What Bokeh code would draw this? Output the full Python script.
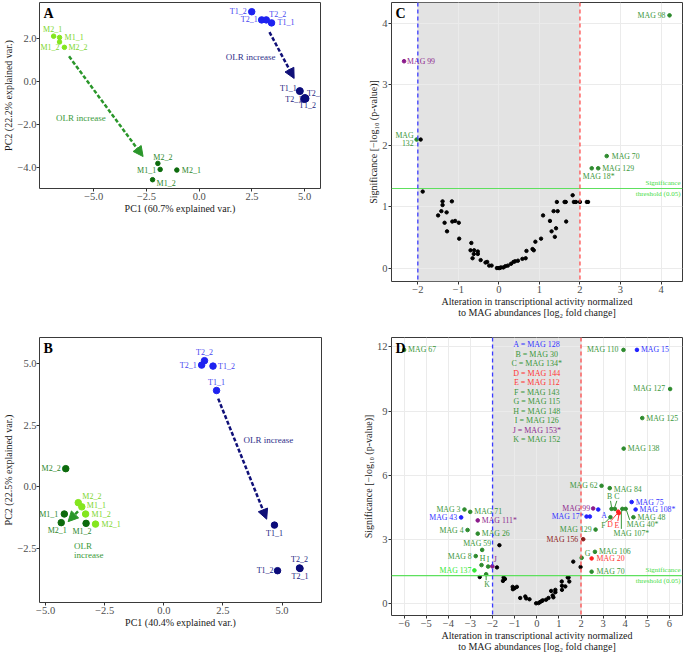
from bokeh.plotting import figure
from bokeh.layouts import column, row
from bokeh.models import (ColumnDataSource, LabelSet, Label, Arrow, NormalHead,
                          Span, BoxAnnotation, FixedTicker, CustomJSTickFormatter, Spacer)
from bokeh.core.properties import value, field
from bokeh.embed import file_html
from bokeh.resources import INLINE

FONT = "Liberation Serif"

# ---------------- Panel A data (PCA) ----------------
a_sample = ["M2_1", "M1_1", "M1_2", "M2_2", "M2_2", "M1_1", "M2_1", "M1_2",
            "T1_2", "T2_1", "T2_2", "T1_1", "T1_1", "T2_2", "T2_1", "T1_2"]
a_pc1 = [-6.90, -6.62, -6.62, -6.39, -1.96, -1.85, -1.06, -2.21,
         2.49, 2.96, 3.18, 3.43, 4.77, 5.01, 4.98, 5.04]
a_pc2 = [2.11, 2.05, 1.84, 1.59, -3.82, -4.10, -4.13, -4.58,
         3.25, 2.87, 2.87, 2.73, -0.45, -0.77, -0.82, -0.80]
a_group = ["M_low"] * 4 + ["M_high"] * 4 + ["T_low"] * 4 + ["T_high"] * 4
a_arrow_group = ["M", "T"]
a_arrow_x0 = [-6.17, 3.33]
a_arrow_y0 = [1.17, 2.30]
a_arrow_x1 = [-2.66, 4.50]
a_arrow_y1 = [-3.50, 0.14]
a_note_group = ["M", "T"]
a_note_text = ["OLR increase", "OLR increase"]
a_note_x = [-6.79, 1.26]
a_note_y = [-1.69, 1.14]

# ---------------- Panel B data (PCA) ----------------
b_sample = ["M2_2", "M1_1", "M1_2", "M2_1", "M2_2", "M1_1", "M2_1", "M1_2",
            "T2_2", "T2_1", "T1_2", "T1_1", "T1_1", "T2_2", "T1_2", "T2_1"]
b_pc1 = [-3.62, -3.47, -3.31, -2.89, -4.15, -4.21, -4.34, -3.29,
         1.72, 1.60, 2.08, 2.23, 4.68, 5.74, 4.81, 5.76]
b_pc2 = [-0.64, -0.81, -1.10, -1.51, 0.74, -1.10, -1.45, -1.48,
         5.12, 4.94, 4.90, 3.91, -1.55, -3.29, -3.40, -3.31]
b_group = ["M_low"] * 4 + ["M_high"] * 4 + ["T_low"] * 4 + ["T_high"] * 4
b_arrow_group = ["M", "T"]
b_arrow_x0 = [-3.63, 2.30]
b_arrow_y0 = [-0.99, 3.58]
b_arrow_x1 = [-4.05, 4.35]
b_arrow_y1 = [-1.41, -1.31]
b_note_group = ["M", "M", "T"]
b_note_text = ["OLR", "increase", "OLR increase"]
b_note_x = [-3.80, -3.80, 3.37]
b_note_y = [-2.38, -2.76, 1.90]

# ---------------- Panel C data (volcano) ----------------
c_black_lfc = [-1.93, -1.88, -1.50, -1.42, -1.39, -1.39, -1.34, -1.29, -1.28, -1.16,
               -1.15, -1.08, -0.99, -0.98, -0.70, -0.68, -0.65, -0.62, -0.61, -0.52,
               -0.52, -0.45, -0.33, -0.29, -0.24, -0.18, -0.05, -0.02, 0.02, 0.05,
               0.11, 0.16, 0.22, 0.30, 0.36, 0.40, 0.47, 0.58, 0.66, 0.68,
               0.83, 0.86, 0.90, 1.04, 1.09, 1.26, 1.30, 1.35, 1.38, 1.41,
               1.43, 1.45, 1.62, 1.65, 1.66, 1.82, 1.85, 1.90, 2.00, 2.17, 2.20]
c_black_sig = [2.10, 1.25, 0.86, 0.93, 1.09, 1.03, 0.74, 0.91, 0.60, 1.09,
               0.76, 0.77, 0.74, 0.48, 0.29, 0.41, 0.16, 0.23, 0.29, 0.27,
               0.23, 0.13, 0.09, 0.10, 0.04, 0.04, 0.00, 0.00, 0.00, 0.01,
               0.01, 0.03, 0.04, 0.07, 0.10, 0.11, 0.12, 0.15, 0.16, 0.28,
               0.31, 0.29, 0.43, 0.48, 0.86, 0.77, 0.60, 0.93, 0.51, 0.65,
               1.08, 0.93, 1.08, 1.08, 0.76, 1.19, 1.08, 1.08, 1.08, 1.08, 1.08]
c_name = ["MAG 98", "MAG 99", "MAG\n132", "MAG 70", "MAG 129", "MAG 18*"]
c_lfc = [4.21, -2.34, -2.03, 2.66, 2.45, 2.29]
c_sig = [4.13, 3.38, 2.10, 1.83, 1.63, 1.63]
c_kind = ["g", "p", "g", "g", "g", "g"]

# ---------------- Panel D data (volcano) ----------------
d_black_lfc = [-2.58, -1.80, -1.69, -1.53, -1.50, -1.44, -1.09, -1.08, -1.00, -0.90,
               -0.75, -0.52, -0.48, -0.33, -0.03, 0.08, 0.15, 0.23, 0.27, 0.42,
               0.53, 0.65, 0.72, 0.75, 0.84, 0.84, 1.13, 1.14, 1.14, 1.29,
               1.40, 1.44, 1.47, 1.65, 1.98]
d_black_sig = [1.23, 1.68, 2.72, 1.05, 1.21, 1.14, 0.77, 0.66, 0.71, 0.77,
               0.25, 0.32, 0.23, 0.19, 0.00, 0.01, 0.06, 0.11, 0.14, 0.17,
               0.25, 0.58, 0.37, 0.28, 0.63, 0.52, 1.02, 0.82, 0.63, 0.79,
               1.21, 1.21, 1.02, 1.95, 1.70]
d_name = ["MAG 67", "MAG 110", "MAG 15", "MAG 127", "MAG 125", "MAG 138", "MAG 62", "MAG 84",
          "MAG 75", "MAG 108*", "MAG 48", "MAG 40*", "MAG 107*", "B", "C", "D", "E", "F",
          "A", "MAG 99", "MAG 17*", "", "MAG 129", "MAG 156", "MAG 106", "G", "MAG 20", "MAG 70",
          "MAG 3", "MAG 71", "MAG 43", "MAG 111*", "MAG 4", "MAG 26", "MAG 59", "MAG 8",
          "H", "I", "J", "MAG 137", "K"]
d_lfc = [-6.00, 3.92, 4.53, 6.03, 4.77, 3.93, 2.93, 3.30,
         4.29, 4.47, 4.37, 4.02, 3.87, 3.38, 3.53, 3.68, 3.71, 3.33,
         2.78, 2.55, 2.25, 2.40, 2.66, 2.10, 2.63, 2.03, 2.48, 2.48,
         -3.27, -3.01, -3.42, -2.67, -3.13, -2.67, -2.47, -2.76,
         -2.50, -2.20, -2.01, -2.82, -2.29]
d_sig = [11.86, 11.86, 11.86, 10.03, 8.67, 7.24, 5.50, 5.39,
         4.74, 4.39, 4.03, 4.42, 4.42, 4.42, 4.42, 4.29, 4.22, 4.03,
         4.39, 4.44, 4.06, 4.06, 3.45, 3.00, 2.41, 2.13, 2.10, 1.48,
         4.39, 4.28, 4.02, 3.88, 3.43, 3.26, 2.50, 2.21,
         1.79, 1.72, 1.73, 1.54, 1.36]
d_kind = ["g", "g", "b", "g", "g", "g", "g", "g",
          "b", "b", "g", "g", "g", "g", "g", "r", "r", "g",
          "b", "p", "b", "b", "g", "dr", "g", "g", "r", "g",
          "g", "g", "b", "p", "g", "g", "g", "g",
          "g", "g", "p", "l", "g"]
d_key_text = ["A = MAG 128", "B = MAG 30", "C = MAG 134*", "D = MAG 144", "E = MAG 112",
              "F = MAG 143", "G = MAG 115", "H = MAG 148", "I = MAG 126", "J = MAG 153*",
              "K = MAG 152"]
d_key_kind = ["b", "g", "g", "r", "r", "g", "g", "g", "g", "p", "g"]

threshold = 1.30
volcano_xtitle = ("Alteration in transcriptional activity normalized\n"
                  "to MAG abundances [log\u2082 fold change]")
volcano_ytitle = "Significance [\u2212log\u2081\u2080 (p-value)]"

# ---------------- styles ----------------
PT_COLOR = {"M_low": "#84E61E", "M_high": "#0D6B0D", "T_low": "#1E22F0", "T_high": "#0B0B7A"}
LB_COLOR = {"M_low": "#7CD62C", "M_high": "#2A862A", "T_low": "#4646F0", "T_high": "#22227E"}
ARROW_COLOR = {"M": "#2A962A", "T": "#101078"}
NOTE_COLOR = {"M": "#3A9A3A", "T": "#30308A"}
KIND_COLOR = {"g": "#2E8B2E", "b": "#2222FF", "p": "#8B1A8B", "r": "#FF2222",
              "dr": "#8B1C1C", "l": "#33E833", "k": "#000000"}
KIND_TEXT = {"g": "#3A963A", "b": "#3333FF", "p": "#8E2A8E", "r": "#FF3333",
             "dr": "#8B2020", "l": "#33E833", "k": "#000000"}

a_lab_align = ["center", "left", "right", "left", "center", "right", "left", "left",
               "right", "right", "left", "left", "right", "left", "right", "center"]
a_lab_dx = [-1, 5, 0, 4, 5, -4, 5, 4, -5, -4, 3, 6, -3, 2, -2, 2]
a_lab_dy = [7, 0, -6, 0, 6, -1, 0, -4, 0, 0, 5, 0, 3, 4, 0, -7]
a_pt_size = {"M_low": 4.5, "M_high": 4.5, "T_low": 6.5, "T_high": 7}

b_lab_align = ["left", "left", "left", "left", "right", "right", "center", "center",
               "center", "right", "left", "center", "center", "center", "right", "center"]
b_lab_dx = [4, 5, 6, 6, -5, -6, -4, -4, 0, -5, 5, 0, 0, 0, -4, 0]
b_lab_dy = [6, 1, 0, 0, 0, 0, -8, -8, 8, 0, 0, 8, -8, 8, 0, -8]
b_pt_size = {"M_low": 6.5, "M_high": 6.5, "T_low": 6.5, "T_high": 6.5}

c_lab_align = ["right", "left", "right", "left", "left", "left"]
c_lab_dx = [-4, 3, -3, 5, 4, -9]
c_lab_dy = [0, 0, 0, 0, 0, -8]

d_lab_align = ["left", "right", "left", "right", "left", "left", "right", "left",
               "left", "left", "left", "left", "center", "center", "center", "center", "center", "center",
               "left", "right", "right", "left", "right", "right", "left", "left", "left", "left",
               "right", "left", "right", "left", "right", "left", "center", "right",
               "center", "center", "center", "right", "center"]
d_lab_dx = [4, -5, 4, -5, 4, 4, -4, 4,
            4, 4, 4, 1, 9, -2, 2, -8, -2, -7,
            3, -3, -3, 0, -4, -5, 4, 3, 5, 5,
            -4, 4, -4, 4, -4, 4, -5, -4,
            1, 0, 3, -3, 1]
d_lab_dy = [0, 0, 0, 0, 0, 0, 0, -1,
            0, 0, 0, -16, -25, 12, 12, -13, -12, -8,
            -6, 0, 0, 0, 0, 0, 0, 4, 0, 0,
            0, 0, 0, 0, 0, 0, 6, 0,
            7, 7, 7, 0, -10]
# leader lines (label name, start px offset, end px offset)
d_leader = [("B", 0, 2, -1, 8), ("C", 0, 2, 2, 8), ("F", -1, -1, -5, -5),
            ("D", -1, -2, -7, -9), ("E", 0, -2, -1, -8), ("MAG 107*", -1, -2, -1, -20),
            ("MAG 40*", 1, -2, 4, -11), ("K", 0, -2, 0, -6)]

BORDER_B = 36


def base_fig(w, h, xr, yr, left, right, top, bottom, grid):
    p = figure(width=w, height=h, x_range=xr, y_range=yr, output_backend="svg",
               toolbar_location=None, min_border_left=left, min_border_right=right,
               min_border_top=top, min_border_bottom=bottom)
    p.outline_line_color = "#3a3a3a"
    p.outline_line_width = 1
    p.background_fill_color = "white"
    p.border_fill_color = "white"
    for ax in (p.xaxis, p.yaxis):
        ax.axis_line_color = None
        ax.major_tick_line_color = "#333333"
        ax.major_tick_out = 3
        ax.major_tick_in = 0
        ax.minor_tick_line_color = None
        ax.major_label_text_font = FONT
        ax.major_label_text_font_size = "10.5px"
        ax.major_label_text_color = "#4D4D4D"
        ax.major_label_standoff = 1
        ax.axis_label_text_font = FONT
        ax.axis_label_text_font_size = "10px"
        ax.axis_label_text_font_style = "normal"
        ax.axis_label_text_color = "#1a1a1a"
        ax.axis_label_text_line_height = 1.0
        ax.axis_label_standoff = 0
    if grid:
        p.xgrid.grid_line_color = "#EBEBEB"
        p.ygrid.grid_line_color = "#EBEBEB"
    else:
        p.xgrid.visible = False
        p.ygrid.visible = False
    return p


def fmt(decimals):
    return CustomJSTickFormatter(code="return tick.toFixed(%d).replace('-', '\u2212');" % decimals)


def panel_letter(p, letter, xr, yr):
    p.add_layout(Label(x=xr[0], y=yr[1], x_offset=4, y_offset=-3, text=letter,
                       text_font=FONT, text_font_style="bold", text_font_size="14px",
                       text_baseline="top", text_color="black"))


def pca_panel(w, h, xr, yr, borders, sample, pc1, pc2, group, align, dx, dy, sizes,
              ax0, ay0, ax1, ay1, agroup, ntext, nx, ny, ngroup, xticks, yticks,
              xlabel, ylabel, letter, head):
    p = base_fig(w, h, xr, yr, *borders, grid=False)
    p.yaxis.major_label_standoff = 0
    src = ColumnDataSource(dict(x=pc1, y=pc2, name=sample,
                                color=[PT_COLOR[g] for g in group],
                                lcolor=[LB_COLOR[g] for g in group],
                                size=[sizes[g] for g in group],
                                align=align, dx=dx, dy=dy))
    for i in range(len(ax0)):
        c = ARROW_COLOR[agroup[i]]
        p.add_layout(Arrow(end=NormalHead(size=head[i], fill_color=c, line_color=c),
                           x_start=ax0[i], y_start=ay0[i], x_end=ax1[i], y_end=ay1[i],
                           line_color=c, line_width=2.5, line_dash="4 2"))
    p.scatter("x", "y", source=src, size="size", color="color", line_color="color")
    p.add_layout(LabelSet(x="x", y="y", text="name", source=src, x_offset="dx", y_offset="dy",
                          text_align=field("align"), text_baseline="middle",
                          text_font=value(FONT), text_font_size="8px", text_color="lcolor"))
    for t, x, y, g in zip(ntext, nx, ny, ngroup):
        p.add_layout(Label(x=x, y=y, text=t, text_font=FONT, text_font_size="9px",
                           text_color=NOTE_COLOR[g], text_baseline="middle"))
    p.xaxis.ticker = FixedTicker(ticks=xticks)
    p.yaxis.ticker = FixedTicker(ticks=yticks)
    p.xaxis.formatter = fmt(1)
    p.yaxis.formatter = fmt(1)
    p.xaxis.axis_label = xlabel
    p.yaxis.axis_label = ylabel
    panel_letter(p, letter, xr, yr)
    return p


def volcano_base(w, h, xr, yr, borders, xticks, yticks, letter):
    p = base_fig(w, h, xr, yr, *borders, grid=True)
    p.add_layout(BoxAnnotation(left=-2, right=2, fill_color="#E3E3E3", fill_alpha=1,
                               line_color=None, level="image"))
    p.add_layout(Span(location=-2, dimension="height", line_color="#3B3BFF",
                      line_dash="4 3", line_width=1.3, level="overlay"))
    p.add_layout(Span(location=2, dimension="height", line_color="#FF4D4D",
                      line_dash="4 3", line_width=1.3, level="overlay"))
    p.add_layout(Span(location=threshold, dimension="width", line_color="#5EE05E",
                      line_width=1.2))
    p.add_layout(Label(x=xr[1], y=threshold, x_offset=-2, y_offset=2, text="Significance",
                       text_font=FONT, text_font_size="7px", text_color="#44DD44",
                       text_align="right", text_baseline="bottom"))
    p.add_layout(Label(x=xr[1], y=threshold, x_offset=-2, y_offset=-1, text="threshold (0.05)",
                       text_font=FONT, text_font_size="7px", text_color="#44DD44",
                       text_align="right", text_baseline="top"))
    p.xaxis.ticker = FixedTicker(ticks=xticks)
    p.yaxis.ticker = FixedTicker(ticks=yticks)
    p.xaxis.formatter = fmt(0)
    p.yaxis.formatter = fmt(0)
    p.xaxis.axis_label = volcano_xtitle
    p.yaxis.axis_label = volcano_ytitle
    panel_letter(p, letter, xr, yr)
    return p


def add_named(p, lfc, sig, name, kind, align, dx, dy):
    p.scatter(lfc, sig, size=3.6, color=[KIND_COLOR[k] for k in kind])
    # expand multi-line labels into one entry per line
    lx, ly, lt, la, ldx, ldy, lc = [], [], [], [], [], [], []
    for i, t in enumerate(name):
        lines = t.split("\n")
        n = len(lines)
        for j, line in enumerate(lines):
            lx.append(lfc[i]); ly.append(sig[i]); lt.append(line); la.append(align[i])
            ldx.append(dx[i]); ldy.append(dy[i] + (n - 1) * 3.7 - j * 7.4)
            lc.append(KIND_TEXT[kind[i]])
    src = ColumnDataSource(dict(x=lx, y=ly, name=lt, align=la, dx=ldx, dy=ldy, tcolor=lc))
    p.add_layout(LabelSet(x="x", y="y", text="name", source=src, x_offset="dx", y_offset="dy",
                          text_align=field("align"), text_baseline="middle",
                          text_font=value(FONT), text_font_size="7.8px", text_color="tcolor"))


# ---------------- build panels ----------------
LW, RW = 345, 338          # column widths
TH, BH = 320, 334          # row heights

A_XR = (-7.57, 5.75)
A_YR = (-4.99, 3.68)
pA = pca_panel(LW, 224, A_XR, A_YR, (35, 25, 2, BORDER_B), a_sample, a_pc1, a_pc2, a_group,
               a_lab_align, a_lab_dx, a_lab_dy, a_pt_size,
               a_arrow_x0, a_arrow_y0, a_arrow_x1, a_arrow_y1, a_arrow_group,
               a_note_text, a_note_x, a_note_y, a_note_group,
               [-5, -2.5, 0, 2.5, 5], [-4, -2, 0, 2],
               "PC1 (60.7% explained var.)", "PC2 (22.2% explained var.)", "A", [10, 10])

B_XR = (-5.26, 6.67)
B_YR = (-4.69, 6.06)
pB = pca_panel(LW, 318, B_XR, B_YR, (35, 24, 17, BORDER_B), b_sample, b_pc1, b_pc2, b_group,
               b_lab_align, b_lab_dx, b_lab_dy, b_pt_size,
               b_arrow_x0, b_arrow_y0, b_arrow_x1, b_arrow_y1, b_arrow_group,
               b_note_text, b_note_x, b_note_y, b_note_group,
               [-5, -2.5, 0, 2.5, 5], [-2.5, 0, 2.5, 5],
               "PC1 (40.4% explained var.)", "PC2 (22.5% explained var.)", "B", [10, 10])

C_XR = (-2.65, 4.53)
C_YR = (-0.22, 4.34)
pC = volcano_base(RW, TH, C_XR, C_YR, (46, 1, 2, BORDER_B), [-2, -1, 0, 1, 2, 3, 4],
                  [0, 1, 2, 3, 4], "C")
pC.scatter(c_black_lfc, c_black_sig, size=3.4, color="black")
add_named(pC, c_lfc, c_sig, c_name, c_kind, c_lab_align, c_lab_dx, c_lab_dy)

D_XR = (-6.57, 6.59)
D_YR = (-0.57, 12.44)
pD = volcano_base(RW, BH, D_XR, D_YR, (46, 1, 17, BORDER_B), list(range(-6, 7)),
                  [0, 3, 6, 9, 12], "D")
pD.scatter(d_black_lfc, d_black_sig, size=3.4, color="black")

# leader lines (pixel offsets converted with approximate frame scale)
px_x = 291 / (D_XR[1] - D_XR[0])
px_y = 278 / (D_YR[1] - D_YR[0])
for nm, sx0, sy0, sx1, sy1 in d_leader:
    i = d_name.index(nm)
    col = KIND_TEXT[d_kind[i]]
    pD.segment(x0=[d_lfc[i] + sx0 / px_x], y0=[d_sig[i] + sy0 / px_y],
               x1=[d_lfc[i] + sx1 / px_x], y1=[d_sig[i] + sy1 / px_y],
               line_color=col, line_width=1)
add_named(pD, d_lfc, d_sig, d_name, d_kind, d_lab_align, d_lab_dx, d_lab_dy)

for i, (t, k) in enumerate(zip(d_key_text, d_key_kind)):
    pD.add_layout(Label(x=0, y=12.09, y_offset=-9.5 * i, text=t, text_font=FONT,
                        text_font_size="8px", text_color=KIND_TEXT[k],
                        text_align="center", text_baseline="middle"))

left_top = column(pA, Spacer(width=LW, height=TH - 224))
left_bot = column(pB, Spacer(width=LW, height=BH - 318))
layout = column(row(left_top, pC), row(left_bot, pD))
open("out.html", "w").write(file_html(layout, INLINE))
